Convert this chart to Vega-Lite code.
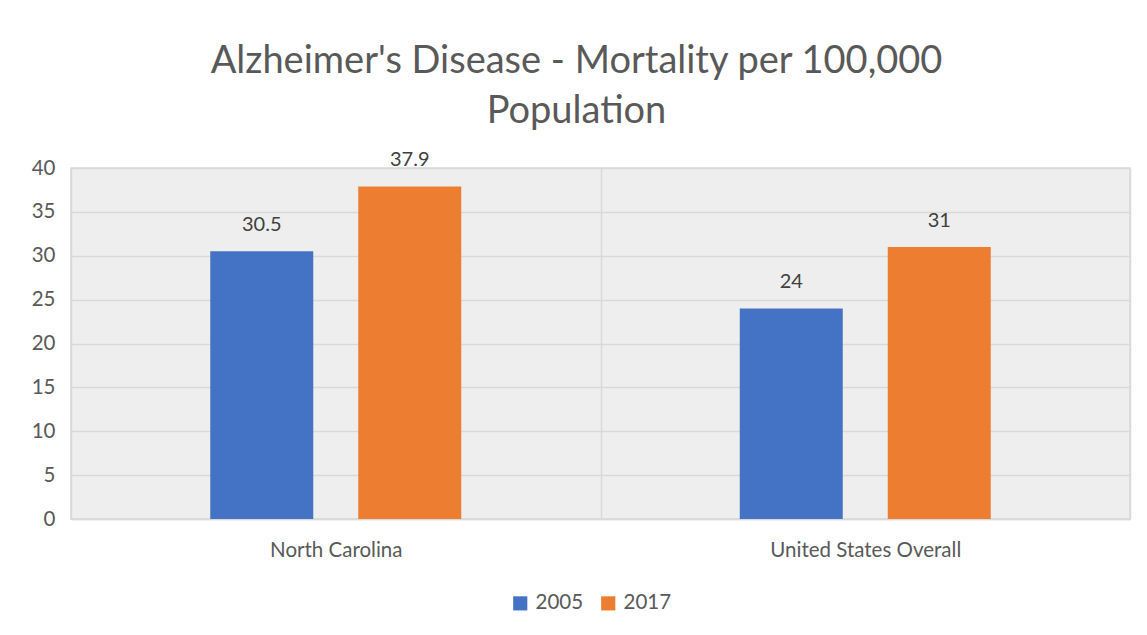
{
  "$schema": "https://vega.github.io/schema/vega-lite/v6.json",
  "autosize": "none",
  "width": 1059,
  "height": 351,
  "padding": {"left": 71, "top": 168, "right": 17, "bottom": 116},
  "background": "white",
  "config": {
    "font": "Lato",
    "view": {"fill": "#eeeeee", "stroke": "#d9d9d9", "strokeWidth": 1.5}
  },
  "title": {
    "text": ["Alzheimer's Disease - Mortality per 100,000", "Population"],
    "fontSize": 38,
    "fontWeight": "normal",
    "color": "#595959",
    "lineHeight": 50,
    "anchor": "middle",
    "dx": -24,
    "offset": 19
  },
  "data": {
    "values": [
      {"region": "North Carolina", "year": "2005", "rate": 30.5},
      {"region": "North Carolina", "year": "2017", "rate": 37.9},
      {"region": "United States Overall", "year": "2005", "rate": 24},
      {"region": "United States Overall", "year": "2017", "rate": 31}
    ]
  },
  "encoding": {
    "x": {
      "field": "region",
      "type": "nominal",
      "title": null,
      "sort": null,
      "scale": {"paddingInner": 0, "paddingOuter": 0},
      "axis": {
        "labelAngle": 0,
        "labelFontSize": 20.5,
        "labelColor": "#595959",
        "labelPadding": 21,
        "labelLimit": 0,
        "ticks": false,
        "tickBand": "extent",
        "grid": true,
        "gridColor": "#d9d9d9",
        "gridWidth": 1.5,
        "domainColor": "#d9d9d9",
        "domainWidth": 1.5
      }
    },
    "xOffset": {
      "field": "year",
      "type": "nominal",
      "scale": {"paddingInner": 0.304, "paddingOuter": 0.941}
    },
    "y": {
      "field": "rate",
      "type": "quantitative",
      "title": null,
      "scale": {"domain": [0, 40], "nice": false},
      "axis": {
        "values": [0, 5, 10, 15, 20, 25, 30, 35, 40],
        "labelFontSize": 20.5,
        "labelColor": "#595959",
        "labelPadding": 16,
        "ticks": false,
        "domain": false,
        "gridColor": "#d9d9d9",
        "gridWidth": 1.5
      }
    }
  },
  "layer": [
    {
      "mark": {"type": "bar"},
      "encoding": {
        "color": {
          "field": "year",
          "type": "nominal",
          "title": null,
          "scale": {"domain": ["2005", "2017"], "range": ["#4472C4", "#ED7D31"]},
          "legend": {
            "orient": "none",
            "direction": "horizontal",
            "legendX": 439,
            "legendY": 425,
            "symbolType": "square",
            "symbolSize": 200,
            "symbolStrokeWidth": 0,
            "labelFontSize": 20.5,
            "labelColor": "#595959",
            "columnPadding": 14,
            "labelOffset": 5
          }
        }
      }
    },
    {
      "mark": {"type": "text", "fontSize": 20, "color": "#404040", "baseline": "alphabetic", "dy": -20},
      "encoding": {
        "text": {"field": "rate", "type": "quantitative"}
      }
    }
  ]
}
